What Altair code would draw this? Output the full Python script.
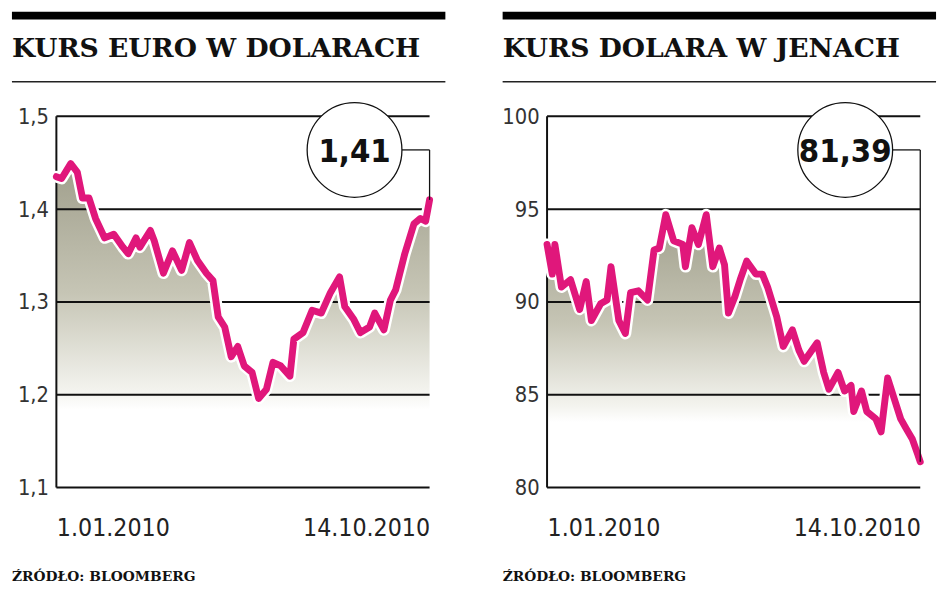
import altair as alt
import pandas as pd

# ---- data ----
eur_days = [0, 4, 11, 16, 20, 25, 30, 37, 44, 51, 55, 61, 64, 72, 75, 82, 89, 96, 102, 108,
            115, 120, 124, 129, 134, 139, 144, 150, 155, 161, 166, 172, 179, 182, 189, 196,
            203, 210, 217, 221, 228, 233, 240, 244, 251, 256, 260, 267, 274, 279, 283, 286]
eur_vals = [1.435, 1.433, 1.449, 1.440, 1.412, 1.412, 1.390, 1.369, 1.373, 1.359, 1.352, 1.369,
            1.359, 1.377, 1.366, 1.331, 1.355, 1.334, 1.364, 1.345, 1.331, 1.323, 1.284, 1.273,
            1.241, 1.252, 1.231, 1.224, 1.196, 1.206, 1.235, 1.231, 1.220, 1.260, 1.267, 1.291,
            1.288, 1.310, 1.327, 1.295, 1.281, 1.267, 1.273, 1.288, 1.270, 1.302, 1.313, 1.352,
            1.384, 1.390, 1.387, 1.410]

jpy_days = [0, 4, 6, 11, 18, 25, 30, 34, 41, 46, 49, 55, 60, 64, 70, 77, 82, 86, 91, 97, 104,
            106, 111, 116, 122, 127, 132, 136, 139, 144, 148, 153, 160, 165, 169, 176, 181, 188,
            193, 197, 202, 207, 212, 216, 223, 228, 233, 235, 241, 245, 252, 256, 261, 266, 271,
            275, 280, 284, 286]
jpy_vals = [93.1, 91.5, 93.1, 90.8, 91.2, 89.6, 91.1, 89.0, 89.9, 90.1, 91.9, 89.0, 88.3, 90.5,
            90.6, 90.1, 92.8, 92.9, 94.7, 93.3, 93.1, 91.9, 94.0, 93.1, 94.7, 91.9, 92.9, 92.0,
            89.4, 90.3, 91.2, 92.2, 91.5, 91.5, 90.8, 89.2, 87.6, 88.5, 87.4, 86.8, 87.3, 87.8,
            86.2, 85.3, 86.2, 85.2, 85.5, 84.1, 85.2, 84.1, 83.7, 83.0, 85.9, 84.8, 83.7, 83.2,
            82.6, 81.8, 81.39]

eur_ticks = [1.1, 1.2, 1.3, 1.4, 1.5]
jpy_ticks = [80, 85, 90, 95, 100]
date_range = [(2010, 1, 1), (2010, 10, 14)]
titles = ["KURS EURO W DOLARACH", "KURS DOLARA W JENACH"]
source_text = "ŹRÓDŁO: BLOOMBERG"

# ---- styling ----
W, H = 378, 376
LEFT = -45
MAGENTA = "#e0177b"
LABEL_FONT = "DejaVu Sans Condensed, Roboto"
TITLE_FONT = "DejaVu Serif"

START = pd.Timestamp(*date_range[0])
dt_start = alt.DateTime(year=date_range[0][0], month=date_range[0][1], date=date_range[0][2])
dt_end = alt.DateTime(year=date_range[1][0], month=date_range[1][1], date=date_range[1][2])


def panel(days, vals, ticks, title, decimals):
    dates = [(START + pd.Timedelta(days=d)).strftime("%Y-%m-%dT00:00:00") for d in days]
    df = pd.DataFrame({"date": dates, "v": vals})
    lo, hi = ticks[0], ticks[-1]
    xscale = alt.Scale(domain=[dt_start, dt_end], nice=False)
    yscale = alt.Scale(domain=[lo, hi], nice=False, zero=False)

    if decimals:
        lab_expr = "replace(format(datum.value, '.1f'), '.', ',')"
    else:
        lab_expr = "format(datum.value, 'd')"

    xaxis = alt.Axis(values=[dt_start, dt_end], format="%-d.%m.%Y", labelFlush=True,
                     grid=False, domain=False, ticks=False, title=None,
                     labelFont=LABEL_FONT, labelFontSize=25, labelColor="#222",
                     labelPadding=29)
    yaxis = alt.Axis(values=ticks, labelExpr=lab_expr, grid=False, domain=False,
                     ticks=False, title=None, labelFont=LABEL_FONT, labelFontSize=22,
                     labelColor="#333", labelPadding=8)

    grad = alt.Gradient(
        gradient="linear",
        stops=[
            alt.GradientStop(color="#a09f8c", offset=0),
            alt.GradientStop(color="#c6c5b5", offset=0.4),
            alt.GradientStop(color="#f3f3ee", offset=0.7),
            alt.GradientStop(color="#ffffff", offset=0.76),
            alt.GradientStop(color="#ffffff", offset=1),
        ],
        x1=1, x2=1, y1=0, y2=1,
    )

    X = alt.X("date:T", scale=xscale, axis=xaxis)
    Y = alt.Y("v:Q", scale=yscale, axis=yaxis)

    area = alt.Chart(df).mark_area(color=grad).encode(x=X, y=Y, y2=alt.datum(lo))

    grid = alt.Chart(pd.DataFrame({"v": ticks})).mark_rule(color="#111", strokeWidth=2).encode(
        y=Y
    )

    frame = alt.Chart(pd.DataFrame({"date": [dates[0]], "v": [lo], "b": [hi]})).mark_rule(
        color="#111", strokeWidth=2).encode(x=X, y=Y, y2="b:Q")

    halo = alt.Chart(df).mark_line(color="white", strokeWidth=12, strokeJoin="round",
                                   strokeCap="round").encode(x=X, y=Y)
    line = alt.Chart(df).mark_line(color=MAGENTA, strokeWidth=7, strokeJoin="round",
                                   strokeCap="round").encode(x=X, y=Y)

    last = df.tail(1).copy()
    last["label"] = [("%.2f" % v).replace(".", ",") for v in last["v"]]
    cx, cy, r = W - 76, 34, 48

    conn_h = alt.Chart(last).mark_rule(color="#111", strokeWidth=1.3).encode(
        x=alt.value(cx + r), x2=alt.value(W), y=alt.value(cy)
    )
    conn_v = alt.Chart(last).mark_rule(color="#111", strokeWidth=1.3).encode(
        x=alt.value(W), y=Y, y2=alt.value(cy)
    )
    circle = alt.Chart(last).mark_point(shape="circle", size=(2 * r) ** 2, filled=True,
                                        fill="white", stroke="#111", strokeWidth=1.3,
                                        opacity=1, fillOpacity=1, strokeOpacity=1).encode(
        x=alt.value(cx), y=alt.value(cy)
    )
    value_text = alt.Chart(last).mark_text(font=LABEL_FONT, fontWeight="bold", fontSize=33,
                                           baseline="middle", align="center",
                                           color="#111").encode(
        x=alt.value(cx), y=alt.value(cy + 2), text="label:N"
    )

    one = pd.DataFrame({"k": [0]})
    bar = alt.Chart(one).mark_rule(color="black", strokeWidth=8).encode(
        x=alt.value(LEFT), x2=alt.value(W + 16), y=alt.value(-102)
    )
    title_txt = alt.Chart(one).mark_text(align="left", baseline="alphabetic", font=TITLE_FONT,
                                         fontWeight="bold", fontSize=27, color="#111").encode(
        x=alt.value(LEFT), y=alt.value(-60), text=alt.value(title)
    )
    title_rule = alt.Chart(one).mark_rule(color="#222", strokeWidth=1.5).encode(
        x=alt.value(LEFT), x2=alt.value(W + 16), y=alt.value(-35)
    )
    src = alt.Chart(one).mark_text(align="left", baseline="alphabetic", font=TITLE_FONT,
                                   fontWeight="bold", fontSize=14, color="#111").encode(
        x=alt.value(LEFT), y=alt.value(471), text=alt.value(source_text)
    )

    return alt.layer(area, grid, frame, halo, line, conn_h, conn_v, circle, value_text,
                     bar, title_txt, title_rule, src).properties(width=W, height=H)


left = panel(eur_days, eur_vals, eur_ticks, titles[0], True)
right = panel(jpy_days, jpy_vals, jpy_ticks, titles[1], False)

chart = alt.hconcat(left, right, spacing=50).properties(padding=0).configure_view(stroke=None)

chart.save("out.html", embed_options={"renderer": "svg", "actions": False})
